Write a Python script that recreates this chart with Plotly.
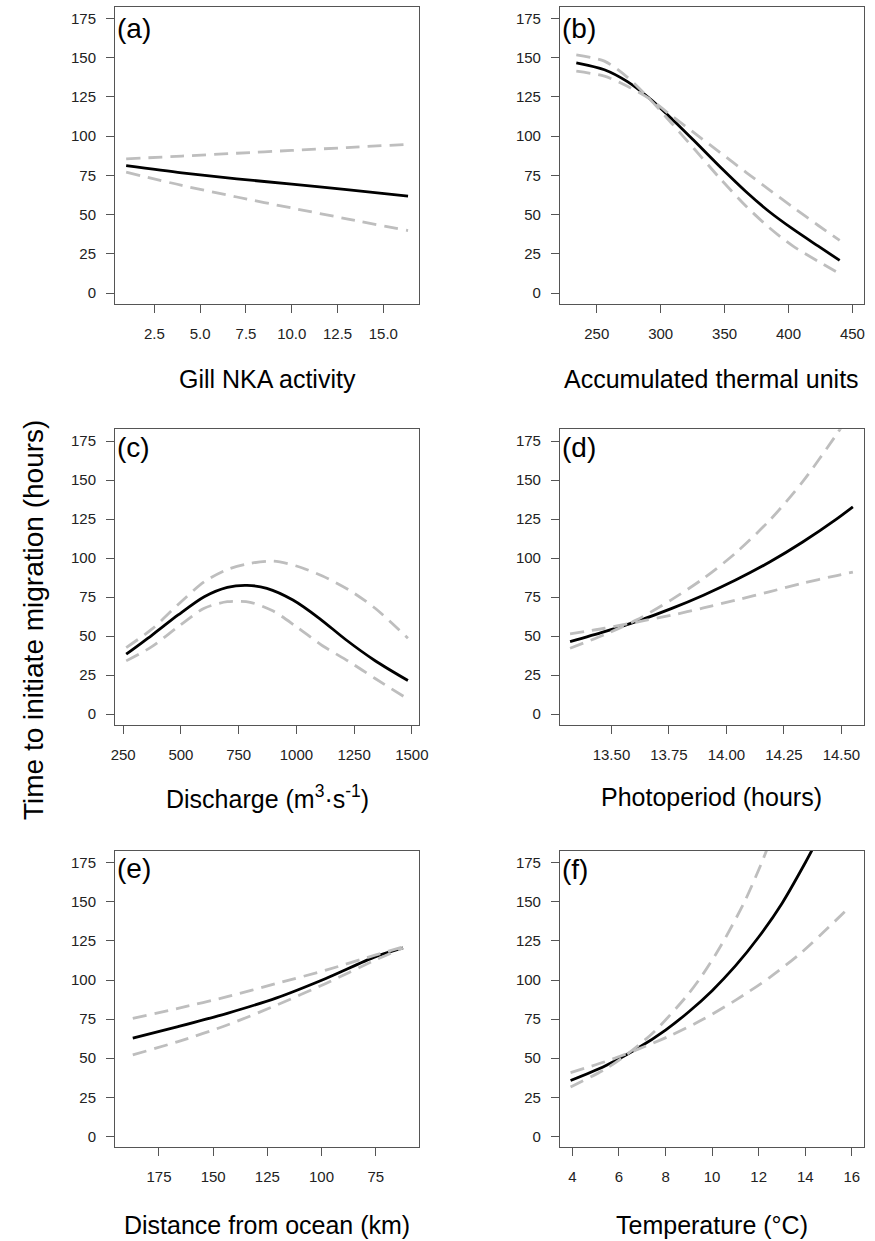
import plotly.graph_objects as go

W, H = 875, 1241

# ---------------- data ----------------
# (a) Gill NKA activity
a_x = [0.96, 4.0, 7.0, 10.0, 13.0, 16.35]
a_fit = [81.2, 76.6, 72.8, 69.4, 65.9, 61.7]
a_ci1 = [85.5, 87.3, 89.1, 90.9, 92.7, 94.8]
a_ci2 = [77.0, 68.6, 61.2, 54.2, 47.3, 39.8]

# (b) Accumulated thermal units
b_x = [234, 256, 274, 291, 308, 326, 346, 367, 385, 403, 423, 440]
b_fit = [146.7, 142.3, 134.7, 124.2, 111.6, 97.2, 80.8, 64.4, 51.8, 41.0, 30.0, 20.8]
b_ci1 = [151.8, 147.8, 137.5, 124.0, 108.7, 92.1, 73.4, 55.2, 41.6, 30.2, 20.3, 12.3]
b_ci2 = [141.4, 138.2, 131.8, 124.0, 113.3, 102.2, 89.8, 76.8, 65.8, 55.0, 43.2, 33.5]

# (c) Discharge
c_x = [263, 374, 488, 601, 701, 786, 872, 985, 1099, 1213, 1341, 1483]
c_fit = [38.4, 50.5, 63.5, 75.2, 81.2, 82.5, 80.6, 73.1, 61.4, 47.8, 34.2, 21.5]
c_ci_x = [263, 374, 488, 601, 701, 800, 900, 1000, 1113, 1227, 1341, 1483]
c_ci1 = [42.6, 54.4, 70.2, 84.8, 92.7, 96.6, 98.0, 94.9, 88.5, 79.6, 67.8, 48.6]
c_ci2 = [34.1, 43.2, 56.0, 67.8, 72.0, 71.6, 66.0, 56.0, 43.8, 33.7, 22.8, 9.6]

# (d) Photoperiod
d_x = [13.32, 13.47, 13.61, 13.76, 13.90, 14.04, 14.19, 14.33, 14.48, 14.55]
d_fit = [46.4, 52.8, 59.4, 67.6, 76.2, 85.9, 97.6, 110.1, 125.1, 132.8]
d_ci1 = [42.2, 50.9, 60.4, 73.2, 86.9, 103.2, 124.5, 148.6, 179.5, 195.0]
d_ci2 = [51.4, 55.0, 59.0, 63.3, 68.0, 73.0, 78.5, 83.8, 88.8, 91.0]

# (e) Distance from ocean
e_x = [187.1, 166.2, 143.5, 120.7, 98.0, 75.3, 62.4]
e_fit = [62.8, 70.2, 78.7, 88.6, 101.0, 114.8, 120.5]
e_ci1 = [75.5, 81.9, 89.3, 97.8, 106.3, 115.9, 121.2]
e_ci2 = [52.1, 60.6, 71.2, 84.0, 97.8, 112.7, 120.5]

# (f) Temperature
f_x = [3.92, 5.4, 6.8, 8.0, 9.0, 10.0, 11.0, 12.0, 13.0, 14.0, 14.5]
f_fit = [35.7, 45.0, 56.3, 68.0, 79.7, 93.2, 109.0, 127.5, 149.0, 175.0, 189.0]
f_ci1_x = [3.92, 5.4, 6.2, 7.5, 8.9, 9.6, 10.4, 11.4, 12.1, 12.6]
f_ci1 = [31.5, 42.9, 50.8, 66.8, 89.6, 103.6, 122.5, 150.3, 174.0, 193.0]
f_ci2_x = [3.92, 5.4, 6.8, 8.22, 9.63, 11.03, 12.45, 13.86, 15.9]
f_ci2 = [40.8, 47.7, 55.6, 64.5, 75.0, 87.3, 101.4, 117.9, 146.6]

# tick labels
y_ticks = [0, 25, 50, 75, 100, 125, 150, 175]
a_ticks = [2.5, 5.0, 7.5, 10.0, 12.5, 15.0]
a_ticklabels = ["2.5", "5.0", "7.5", "10.0", "12.5", "15.0"]
b_ticks = [250, 300, 350, 400, 450]
c_ticks = [250, 500, 750, 1000, 1250, 1500]
d_ticks = [13.50, 13.75, 14.00, 14.25, 14.50]
d_ticklabels = ["13.50", "13.75", "14.00", "14.25", "14.50"]
e_ticks = [175, 150, 125, 100, 75]
f_ticks = [4, 6, 8, 10, 12, 14, 16]

x_titles = ["Gill NKA activity", "Accumulated thermal units",
            "Discharge (m<sup>3</sup>\u00b7s<sup>-1</sup>)", "Photoperiod (hours)",
            "Distance from ocean (km)", "Temperature (\u00b0C)"]
panel_labels = ["(a)", "(b)", "(c)", "(d)", "(e)", "(f)"]
y_title = "Time to initiate migration (hours)"

# ---------------- layout geometry (pixels) ----------------
FONT = "Liberation Sans, Arial, Helvetica, sans-serif"
col_px = [(112.67, 421.67), (564.33, 872.67)]
row_px = [(6.7, 304.0), (429.3, 725.0), (851.0, 1147.3)]
x_ranges = [[0.35, 16.97], [221.2, 458.8], [214.5, 1532.7],
            [13.276, 14.597], [195.3, 54.85], [3.464, 16.51]]
y_range = [-7, 182.5]
label_cy = [28.3, 28.3, 447.0, 447.5, 868.0, 869.5]
title_cy = [379, 379, 797, 797, 1225, 1225]

GRAY = "#BEBEBE"
DASH = "14px,8px"

panels = [
    dict(fit=(a_x, a_fit), ci=[(a_x, a_ci1), (a_x, a_ci2)], tv=a_ticks, tt=a_ticklabels),
    dict(fit=(b_x, b_fit), ci=[(b_x, b_ci1), (b_x, b_ci2)], tv=b_ticks, tt=[str(v) for v in b_ticks]),
    dict(fit=(c_x, c_fit), ci=[(c_ci_x, c_ci1), (c_ci_x, c_ci2)], tv=c_ticks, tt=[str(v) for v in c_ticks]),
    dict(fit=(d_x, d_fit), ci=[(d_x, d_ci1), (d_x, d_ci2)], tv=d_ticks, tt=d_ticklabels),
    dict(fit=(e_x, e_fit), ci=[(e_x, e_ci1), (e_x, e_ci2)], tv=e_ticks, tt=[str(v) for v in e_ticks]),
    dict(fit=(f_x, f_fit), ci=[(f_ci1_x, f_ci1), (f_ci2_x, f_ci2)], tv=f_ticks, tt=[str(v) for v in f_ticks]),
]

fig = go.Figure()
layout = dict(width=W, height=H, margin=dict(l=0, r=0, t=0, b=0),
              paper_bgcolor="white", plot_bgcolor="white", showlegend=False,
              font=dict(family=FONT, color="#111"))
annotations = []

for i, p in enumerate(panels):
    n = i + 1
    r, c = divmod(i, 2)
    xs = "x" if n == 1 else f"x{n}"
    ys = "y" if n == 1 else f"y{n}"
    x0, x1 = col_px[c]
    y0, y1 = row_px[r]

    fx, fy = p["fit"]
    fig.add_trace(go.Scatter(x=fx, y=fy, mode="lines", xaxis=xs, yaxis=ys,
                             line=dict(color="black", width=2.8, shape="spline", smoothing=0.8),
                             hoverinfo="skip"))
    for cx, cy in p["ci"]:
        fig.add_trace(go.Scatter(x=cx, y=cy, mode="lines", xaxis=xs, yaxis=ys,
                                 line=dict(color=GRAY, width=2.8, dash=DASH, shape="spline", smoothing=0.8),
                                 hoverinfo="skip"))

    axis_common = dict(showgrid=False, zeroline=False, showline=True, mirror=True,
                       linecolor="#555", linewidth=1, ticks="outside", ticklen=8,
                       tickcolor="#555", tickwidth=1,
                       tickfont=dict(family=FONT, size=15, color="#222"))
    xkey = "xaxis" if n == 1 else f"xaxis{n}"
    ykey = "yaxis" if n == 1 else f"yaxis{n}"
    layout[xkey] = dict(axis_common, domain=[x0 / W, x1 / W], range=x_ranges[i],
                        anchor=ys, tickmode="array", tickvals=p["tv"], ticktext=p["tt"],
                        ticklabelstandoff=8)
    layout[ykey] = dict(axis_common, domain=[1 - y1 / H, 1 - y0 / H], range=y_range,
                        anchor=xs, tickmode="array", tickvals=y_ticks,
                        ticktext=[str(v) for v in y_ticks], ticklabelstandoff=7)

    annotations.append(dict(text=panel_labels[i], xref="paper", yref="paper",
                            x=(x0 + 0.5) / W, y=1 - label_cy[i] / H,
                            xanchor="left", yanchor="middle", showarrow=False,
                            font=dict(family=FONT, size=28, color="black")))
    annotations.append(dict(text=x_titles[i], xref="paper", yref="paper",
                            x=(x0 + x1) / 2 / W, y=1 - title_cy[i] / H,
                            xanchor="center", yanchor="middle", showarrow=False,
                            font=dict(family=FONT, size=25, color="black")))

annotations.append(dict(text=y_title, xref="paper", yref="paper",
                        x=30 / W, y=0.5, xanchor="center", yanchor="middle",
                        textangle=-90, showarrow=False,
                        font=dict(family=FONT, size=28, color="black")))
layout["annotations"] = annotations
fig.update_layout(**layout)

fig.write_html("out.html")
